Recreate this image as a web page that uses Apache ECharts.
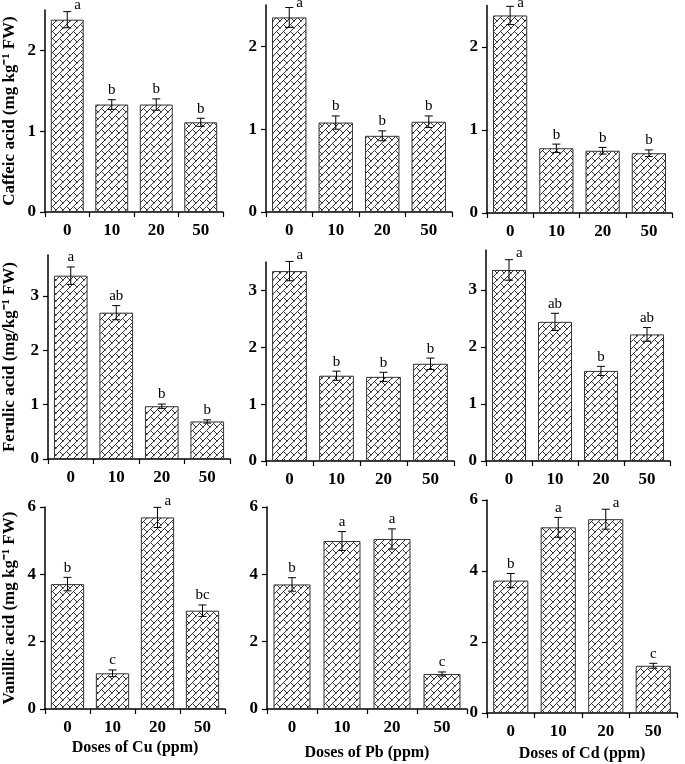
<!DOCTYPE html>
<html><head><meta charset="utf-8">
<script src="https://cdn.jsdelivr.net/npm/echarts@6/dist/echarts.min.js"></script>
<style>html,body{margin:0;padding:0;background:#fff}#c{width:685px;height:764px}</style>
</head><body><div id="c"></div><script>
// ---------- data ----------
const categories = ['0', '10', '20', '50'];

const caffeicCu = [2.38, 1.33, 1.33, 1.11];
const caffeicCuErr = [0.10, 0.06, 0.07, 0.05];
const caffeicCuLetters = ['a', 'b', 'b', 'b'];
const caffeicPb = [2.35, 1.08, 0.92, 1.09];
const caffeicPbErr = [0.12, 0.08, 0.06, 0.07];
const caffeicPbLetters = ['a', 'b', 'b', 'b'];
const caffeicCd = [2.38, 0.78, 0.75, 0.72];
const caffeicCdErr = [0.11, 0.05, 0.04, 0.04];
const caffeicCdLetters = ['a', 'b', 'b', 'b'];

const ferulicCu = [3.37, 2.69, 0.97, 0.69];
const ferulicCuErr = [0.16, 0.13, 0.04, 0.03];
const ferulicCuLetters = ['a', 'ab', 'b', 'b'];
const ferulicPb = [3.34, 1.50, 1.48, 1.71];
const ferulicPbErr = [0.17, 0.08, 0.08, 0.10];
const ferulicPbLetters = ['a', 'b', 'b', 'b'];
const ferulicCd = [3.35, 2.44, 1.58, 2.22];
const ferulicCdErr = [0.18, 0.15, 0.08, 0.12];
const ferulicCdLetters = ['a', 'ab', 'b', 'ab'];

const vanillicCu = [3.71, 1.06, 5.69, 2.92];
const vanillicCuErr = [0.20, 0.10, 0.30, 0.17];
const vanillicCuLetters = ['b', 'c', 'a', 'bc'];
const vanillicPb = [3.70, 4.99, 5.05, 1.04];
const vanillicPbErr = [0.20, 0.28, 0.30, 0.06];
const vanillicPbLetters = ['b', 'a', 'a', 'c'];
const vanillicCd = [3.73, 5.23, 5.46, 1.33];
const vanillicCdErr = [0.20, 0.28, 0.28, 0.07];
const vanillicCdLetters = ['b', 'a', 'a', 'c'];

const caffeicTicks = [0, 1, 2];
const ferulicTicks = [0, 1, 2, 3];
const vanillicTicks = [0, 2, 4, 6];

const yTitles = ['Caffeic acid (mg kg\u207B\u00B9 FW)', 'Ferulic acid (mg/kg\u207B\u00B9 FW)', 'Vanillic acid (mg kg\u207B\u00B9 FW)'];
const xTitles = ['Doses of Cu (ppm)', 'Doses of Pb (ppm)', 'Doses of Cd (ppm)'];

// ---------- layout ----------
const panels = [
  {v: caffeicCu, e: caffeicCuErr, l: caffeicCuLetters, t: caffeicTicks, max: 2.5, iv: 1, g: [45, 10, 178, 202]},
  {v: caffeicPb, e: caffeicPbErr, l: caffeicPbLetters, t: caffeicTicks, max: 2.5, iv: 1, g: [266, 5, 186, 207]},
  {v: caffeicCd, e: caffeicCdErr, l: caffeicCdLetters, t: caffeicTicks, max: 2.5, iv: 1, g: [487, 5.5, 185, 207.5]},
  {v: ferulicCu, e: ferulicCuErr, l: ferulicCuLetters, t: ferulicTicks, max: 3.75, iv: 1, g: [48, 255, 182, 204]},
  {v: ferulicPb, e: ferulicPbErr, l: ferulicPbLetters, t: ferulicTicks, max: 3.5, iv: 1, g: [266, 262, 188, 199]},
  {v: ferulicCd, e: ferulicCdErr, l: ferulicCdLetters, t: ferulicTicks, max: 3.7, iv: 1, g: [486, 250, 184, 211]},
  {v: vanillicCu, e: vanillicCuErr, l: vanillicCuLetters, t: vanillicTicks, max: 6, iv: 2, g: [45, 507, 180, 202]},
  {v: vanillicPb, e: vanillicPbErr, l: vanillicPbLetters, t: vanillicTicks, max: 6, iv: 2, g: [267, 507, 200, 202]},
  {v: vanillicCd, e: vanillicCdErr, l: vanillicCdLetters, t: vanillicTicks, max: 6, iv: 2, g: [487, 500, 190, 213]}
];
const yNameGap = [27, 30, 27];
const xNameGap = [31, 36, 33];

function makePattern() {
  const s = 7;
  const c = document.createElement('canvas');
  c.width = s; c.height = s;
  const g = c.getContext('2d');
  g.fillStyle = '#fff'; g.fillRect(0, 0, s, s);
  g.strokeStyle = '#333'; g.lineWidth = 1;
  g.beginPath();
  g.moveTo(-1, s + 1); g.lineTo(s + 1, -1);
  g.moveTo(s / 2, s / 2); g.lineTo(s + 1, s + 1);
  g.moveTo(-1, -1); g.lineTo(0.5, 0.5);
  g.stroke();
  return c;
}
const pattern = makePattern();

const SERIF = '"Liberation Serif", "Times New Roman", serif';

function errRenderer(letters) {
  return function (params, api) {
    const x = api.value(0), v = api.value(1), e = api.value(2);
    const top = api.coord([x, v + e]);
    const bot = api.coord([x, v - e]);
    const cap = 4;
    const st = {stroke: '#000', lineWidth: 1};
    const cs = params.coordSys;
    const above = top[1] - 11 >= cs.y;
    const txt = above
      ? {x: top[0], y: top[1] - 2, align: 'center', verticalAlign: 'bottom'}
      : {x: top[0] + 7, y: Math.max(top[1] - 6.5, 3), align: 'left', verticalAlign: 'middle'};
    return {
      type: 'group',
      children: [
        {type: 'line', shape: {x1: top[0], y1: top[1], x2: bot[0], y2: bot[1]}, style: st},
        {type: 'line', shape: {x1: top[0] - cap, y1: top[1], x2: top[0] + cap, y2: top[1]}, style: st},
        {type: 'line', shape: {x1: bot[0] - cap, y1: bot[1], x2: bot[0] + cap, y2: bot[1]}, style: st},
        {type: 'text', x: txt.x, y: txt.y,
          style: {text: letters[params.dataIndex], align: txt.align, verticalAlign: txt.verticalAlign,
            font: '15px ' + SERIF, fill: '#000'}}
      ]
    };
  };
}

const grid = [], xAxis = [], yAxis = [], series = [];
panels.forEach((p, i) => {
  const row = Math.floor(i / 3), col = i % 3;
  grid.push({left: p.g[0], top: p.g[1], width: p.g[2], height: p.g[3], containLabel: false});
  xAxis.push({
    type: 'category', gridIndex: i, data: categories,
    axisLine: {lineStyle: {color: '#000', width: 1.5}},
    axisTick: {show: true, length: 5, alignWithLabel: false, lineStyle: {color: '#000', width: 1.2}},
    axisLabel: {color: '#000', fontFamily: SERIF, fontWeight: 'bold', fontSize: 17, margin: 10},
    name: row === 2 ? xTitles[col] : '', nameLocation: 'middle', nameGap: xNameGap[col],
    nameTextStyle: {color: '#000', fontFamily: SERIF, fontWeight: 'bold', fontSize: 16}
  });
  yAxis.push({
    type: 'value', gridIndex: i, min: 0, max: p.max, interval: p.iv,
    splitLine: {show: false},
    axisLine: {show: true, lineStyle: {color: '#000', width: 1.5}},
    axisTick: {show: true, length: 5, customValues: p.t, lineStyle: {color: '#000', width: 1.2}},
    axisLabel: {color: '#000', fontFamily: SERIF, fontWeight: 'bold', fontSize: 17, margin: 9, customValues: p.t},
    name: col === 0 ? yTitles[row] : '', nameLocation: 'middle', nameGap: yNameGap[row], nameRotate: 90,
    nameTextStyle: {color: '#000', fontFamily: SERIF, fontWeight: 'bold', fontSize: 17}
  });
  series.push({
    type: 'bar', xAxisIndex: i, yAxisIndex: i, data: p.v, barCategoryGap: '26%',
    itemStyle: {color: {image: pattern, repeat: 'repeat'}, borderColor: '#333', borderWidth: 1},
    silent: true, animation: false
  });
  series.push({
    type: 'custom', xAxisIndex: i, yAxisIndex: i,
    data: p.v.map((val, k) => [k, val, p.e[k]]),
    renderItem: errRenderer(p.l), silent: true, animation: false, z: 5
  });
});

const chart = echarts.init(document.getElementById('c'), null, {renderer: 'canvas'});
chart.setOption({backgroundColor: '#fff', animation: false, grid, xAxis, yAxis, series});
</script></body></html>
